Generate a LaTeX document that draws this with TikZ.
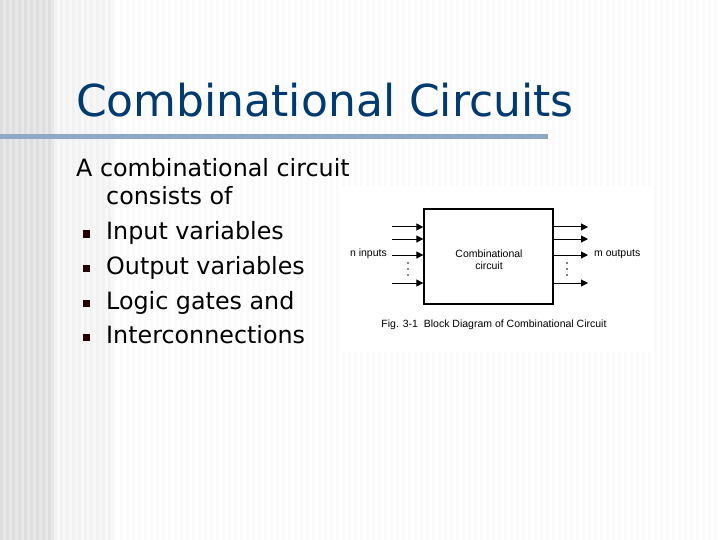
\documentclass[tikz,border=0pt]{standalone}
\usepackage{fontspec}
\setmainfont{DejaVu Sans}
\newfontfamily\figfont{Liberation Sans}
\usetikzlibrary{arrows.meta}
\definecolor{titleblue}{HTML}{003A70}
\definecolor{rule}{HTML}{8FA8C8}
\begin{document}
\begin{tikzpicture}[x=1pt,y=-1pt,
  arr/.style={-{Triangle[length=7pt,width=7pt]},line width=1pt},
  lbl/.style={font=\figfont\fontsize{10.5}{12}\selectfont,inner sep=0pt},
  body/.style={anchor=base west,inner sep=0pt,font=\fontsize{23.8}{25}\selectfont},
  bul/.style={fill=black!85!red,minimum size=7pt,inner sep=0pt}]
\useasboundingbox (0,0) rectangle (720,540);
\fill[white] (0,0) rectangle (720,540);
\foreach \i in {0,...,8}{\fill[black!13] (\i*6,0) rectangle (\i*6+3,540);
  \fill[black!9] (\i*6+3,0) rectangle (\i*6+6,540);}
\foreach \i in {0,...,9}{\fill[black!5] (54+\i*6,0) rectangle (57+\i*6,540);
  \fill[black!3] (57+\i*6,0) rectangle (60+\i*6,540);}
\foreach \i in {0,...,100}{\fill[black!2] (114+\i*6,0) rectangle (117+\i*6,540);}
\node[anchor=base west,inner sep=0pt,text=titleblue,font=\fontsize{44}{48}\selectfont] (title) at (76,117) {Combinational Circuits};
\fill[rule] (0,134.5) rectangle (548,139.5);
\node[body] (t1) at (76,177) {A combinational circuit};
\node[body] (t2) at (106,205) {consists of};
\node[body] (t3) at (106,240) {Input variables};
\node[body] (t4) at (106,274) {Output variables};
\node[body] (t5) at (106,309) {Logic gates and};
\node[body] (t6) at (106,343) {Interconnections};
\foreach \y/\n in {234/b1,268/b2,303/b3,337/b4}{\node[bul] (\n) at (86,\y) {};}
\fill[white] (342,186) rectangle (654,352);
\node[draw,line width=1.3pt,minimum width=129pt,minimum height=95pt,inner sep=0pt] (box) at (488.5,256.5) {};
\node[lbl,align=center] (bt) at (489,260) {Combinational\\circuit};
\foreach \y/\n in {227/a,239/b,255/c,283/d}{
  \coordinate (i\n) at (392,\y); \coordinate (o\n) at (588,\y);
  \draw[arr] (i\n) -- (i\n -| box.west);
  \draw[arr] (o\n -| box.east) -- (o\n);}
\node[lbl,anchor=east] (nin) at (387,254) {n inputs};
\node[lbl,anchor=west] (mout) at (594,254) {m outputs};
\foreach \y in {263,269,275}{\fill (408,\y) circle (0.8pt); \fill (567,\y) circle (0.8pt);}
\node[lbl] (cap) at (494,325) {Fig. 3-1\ \ Block Diagram of Combinational Circuit};
\end{tikzpicture}
\end{document}
